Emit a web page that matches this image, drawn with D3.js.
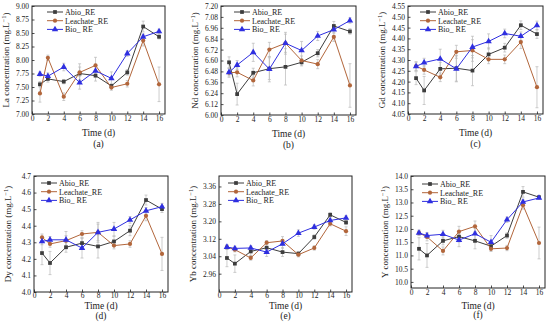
<!DOCTYPE html>
<html>
<head>
<meta charset="utf-8">
<script src="https://cdn.jsdelivr.net/npm/d3@7"></script>
<style>
  body { margin: 0; background: #fff; }
  svg text { font-family: "Liberation Serif", "DejaVu Serif", serif; fill: #222; font-weight: normal; }
</style>
</head>
<body>
<script>
const days = [1, 2, 4, 6, 8, 10, 12, 14, 16];
const xTicks = [0, 2, 4, 6, 8, 10, 12, 14, 16];
const seriesNames = ['Abio_RE', 'Leachate_RE', 'Bio_ RE'];

// La
const laAbio = [7.55, 7.65, 7.60, 7.75, 7.71, 7.52, 7.77, 8.62, 8.43];
const laLeach = [7.38, 8.04, 7.32, 7.77, 7.90, 7.49, 7.56, 8.36, 7.55];
const laBio = [7.74, 7.70, 7.87, 7.58, 7.80, 7.66, 8.12, 8.43, 8.53];
const laErrAbio = [0.05, 0.06, 0.04, 0.12, 0.1, 0.04, 0.05, 0.1, 0.04];
const laErrLeach = [0.16, 0.05, 0.07, 0.16, 0.15, 0.05, 0.06, 0.1, 0.32];
const laErrBio = [0.04, 0.06, 0.07, 0.12, 0.1, 0.12, 0.05, 0.05, 0.04];

// Nd
const ndAbio = [6.58, 6.23, 6.465, 6.51, 6.53, 6.58, 6.68, 6.98, 6.92];
const ndLeach = [6.465, 6.47, 6.38, 6.72, 6.79, 6.60, 6.56, 6.86, 6.325];
const ndBio = [6.47, 6.55, 6.69, 6.505, 6.79, 6.71, 6.87, 6.94, 7.04];
const ndErrAbio = [0.06, 0.12, 0.05, 0.12, 0.2, 0.04, 0.04, 0.05, 0.03];
const ndErrLeach = [0.05, 0.05, 0.06, 0.08, 0.12, 0.05, 0.05, 0.05, 0.24];
const ndErrBio = [0.04, 0.05, 0.1, 0.14, 0.1, 0.1, 0.05, 0.04, 0.03];

// Gd
const gdAbio = [4.216, 4.159, 4.259, 4.262, 4.251, 4.326, 4.357, 4.461, 4.42];
const gdLeach = [4.272, 4.254, 4.22, 4.338, 4.344, 4.303, 4.303, 4.383, 4.174];
const gdBio = [4.27, 4.288, 4.305, 4.259, 4.36, 4.386, 4.423, 4.41, 4.46];
const gdErrAbio = [0.03, 0.065, 0.03, 0.06, 0.07, 0.03, 0.02, 0.02, 0.02];
const gdErrLeach = [0.02, 0.02, 0.02, 0.03, 0.05, 0.02, 0.02, 0.03, 0.095];
const gdErrBio = [0.02, 0.02, 0.045, 0.06, 0.05, 0.035, 0.02, 0.02, 0.02];

// Dy
const dyAbio = [4.235, 4.175, 4.27, 4.295, 4.275, 4.305, 4.37, 4.555, 4.50];
const dyLeach = [4.33, 4.29, 4.31, 4.35, 4.36, 4.28, 4.29, 4.46, 4.23];
const dyBio = [4.305, 4.315, 4.315, 4.265, 4.36, 4.38, 4.435, 4.49, 4.515];
const dyErrAbio = [0.07, 0.07, 0.03, 0.03, 0.07, 0.03, 0.03, 0.03, 0.02];
const dyErrLeach = [0.02, 0.02, 0.03, 0.02, 0.06, 0.02, 0.02, 0.03, 0.1];
const dyErrBio = [0.02, 0.02, 0.05, 0.06, 0.05, 0.04, 0.02, 0.02, 0.02];

// Yb
const ybAbio = [3.032, 3.006, 3.062, 3.079, 3.059, 3.052, 3.128, 3.23, 3.195];
const ybLeach = [3.082, 3.07, 3.032, 3.102, 3.11, 3.047, 3.078, 3.189, 3.155];
const ybBio = [3.082, 3.076, 3.078, 3.059, 3.097, 3.146, 3.174, 3.204, 3.216];
const ybErrAbio = [0.04, 0.04, 0.02, 0.02, 0.02, 0.01, 0.01, 0.01, 0.01];
const ybErrLeach = [0.01, 0.01, 0.01, 0.01, 0.02, 0.01, 0.01, 0.01, 0.02];
const ybErrBio = [0.01, 0.01, 0.01, 0.02, 0.02, 0.015, 0.01, 0.01, 0.01];

// Y
const yAbio = [11.25, 11.0, 11.55, 11.71, 11.55, 11.35, 11.75, 13.4, 13.2];
const yLeach = [11.85, 11.7, 11.17, 11.9, 12.1, 11.25, 11.28, 12.9, 11.47];
const yBio = [11.85, 11.75, 11.8, 11.58, 11.82, 11.5, 12.35, 13.02, 13.17];
const yErrAbio = [0.42, 0.45, 0.15, 0.2, 0.3, 0.15, 0.1, 0.2, 0.05];
const yErrLeach = [0.1, 0.15, 0.15, 0.2, 0.2, 0.1, 0.1, 0.15, 0.6];
const yErrBio = [0.1, 0.1, 0.15, 0.25, 0.2, 0.25, 0.1, 0.1, 0.05];

const colors = ['#3d3d3d', '#b2663b', '#2f2fe0'];
const markers = [d3.symbolSquare, d3.symbolCircle, d3.symbolTriangle];
const markerSize = [14, 14, 18];

// box = [left, top, right, bottom]; titles = [tick pad, "Time (d)" offset, tag offset]
const panels = [
  { el: 'La', tag: '(a)', box: [32, 6, 165, 114], titles: [2, 22, 33], yDom: [7, 9], yTicks: d3.range(7, 9.001, 0.25), fmt: '.2f',
    vals: [laAbio, laLeach, laBio], errs: [laErrAbio, laErrLeach, laErrBio], leg: [47, 12] },
  { el: 'Nd', tag: '(b)', box: [221, 6, 356, 115], titles: [2, 22, 33], yDom: [6, 7.2], yTicks: d3.range(6, 7.201, 0.12), fmt: '.2f',
    vals: [ndAbio, ndLeach, ndBio], errs: [ndErrAbio, ndErrLeach, ndErrBio], leg: [234, 12] },
  { el: 'Gd', tag: '(c)', box: [408, 6, 543, 114], titles: [2, 22, 33], yDom: [4.05, 4.55], yTicks: d3.range(4.05, 4.551, 0.05), fmt: '.2f',
    vals: [gdAbio, gdLeach, gdBio], errs: [gdErrAbio, gdErrLeach, gdErrBio], leg: [420, 12] },
  { el: 'Dy', tag: '(d)', box: [34, 176, 168, 292], titles: [0.5, 17, 26.5], yDom: [4.0, 4.7], yTicks: d3.range(4.0, 4.701, 0.1), fmt: '.1f',
    vals: [dyAbio, dyLeach, dyBio], errs: [dyErrAbio, dyErrLeach, dyErrBio], leg: [41, 183] },
  { el: 'Yb', tag: '(e)', box: [219, 176, 352, 292], titles: [0.5, 17, 26.5], yDom: [2.876, 3.408], yTicks: d3.range(2.96, 3.361, 0.08), fmt: '.2f',
    vals: [ybAbio, ybLeach, ybBio], errs: [ybErrAbio, ybErrLeach, ybErrBio], leg: [228, 183] },
  { el: 'Y', tag: '(f)', box: [411, 176, 545, 288], titles: [1.5, 21, 30], yDom: [9.77, 14.0], yTicks: d3.range(10, 14.001, 0.5), fmt: '.1f',
    vals: [yAbio, yLeach, yBio], errs: [yErrAbio, yErrLeach, yErrBio], leg: [422, 184] }
];

const svg = d3.select('body').append('svg')
  .attr('width', 550)
  .attr('height', 324);

let drawPanel = (p) => {
  const [x0, y0, x1, y1] = p.box;
  const x = d3.scaleLinear().domain([0, 16.75]).range([x0, x1]);
  const y = d3.scaleLinear().domain(p.yDom).range([y1, y0]);
  const g = svg.append('g');

  // error bars first so lines sit on top
  p.vals.forEach((vals, si) => {
    const eg = g.append('g').attr('stroke', '#b8b8b8').attr('stroke-width', 0.7).attr('fill', 'none');
    vals.forEach((v, i) => {
      const e = p.errs[si][i];
      const cx = x(days[i]);
      eg.append('line').attr('x1', cx).attr('x2', cx).attr('y1', y(v - e)).attr('y2', y(v + e));
      eg.append('line').attr('x1', cx - 1.5).attr('x2', cx + 1.5).attr('y1', y(v - e)).attr('y2', y(v - e));
      eg.append('line').attr('x1', cx - 1.5).attr('x2', cx + 1.5).attr('y1', y(v + e)).attr('y2', y(v + e));
    });
  });

  p.vals.forEach((vals, si) => {
    const line = d3.line().x((d, i) => x(days[i])).y(d => y(d));
    g.append('path')
      .datum(vals)
      .attr('d', line)
      .attr('fill', 'none')
      .attr('stroke', colors[si])
      .attr('stroke-width', 1);
    g.selectAll(null)
      .data(vals)
      .enter()
      .append('path')
      .attr('d', d3.symbol().type(markers[si]).size(markerSize[si]))
      .attr('transform', (d, i) => 'translate(' + x(days[i]) + ',' + y(d) + ')')
      .attr('fill', colors[si]);
  });

  // axes with inward ticks
  const xAxis = g.append('g')
    .attr('transform', 'translate(0,' + y1 + ')')
    .call(d3.axisBottom(x).tickValues(xTicks).tickSize(-2.5).tickPadding(p.titles[0]).tickFormat(d3.format('d')));
  const yAxis = g.append('g')
    .attr('transform', 'translate(' + x0 + ',0)')
    .call(d3.axisLeft(y).tickValues(p.yTicks).tickSize(-2.5).tickPadding(3).tickFormat(d3.format(p.fmt)));
  [xAxis, yAxis].forEach(a => {
    a.attr('font-family', null);
    a.select('.domain').remove();
    a.selectAll('line').attr('stroke', '#222').attr('stroke-width', 0.8);
    a.selectAll('text').attr('font-size', 7.5).attr('fill', '#222');
  });

  g.append('rect')
    .attr('x', x0).attr('y', y0)
    .attr('width', x1 - x0).attr('height', y1 - y0)
    .attr('fill', 'none')
    .attr('stroke', '#222')
    .attr('stroke-width', 1);

  // x titles
  const cx = (x0 + x1) / 2;
  g.append('text').attr('x', cx).attr('y', y1 + p.titles[1])
    .attr('text-anchor', 'middle').attr('font-size', 9.5).text('Time (d)');
  g.append('text').attr('x', cx).attr('y', y1 + p.titles[2])
    .attr('text-anchor', 'middle').attr('font-size', 9.5).text(p.tag);

  // y title
  const yt = g.append('text')
    .attr('transform', 'translate(' + (x0 - 23) + ',' + ((y0 + y1) / 2) + ') rotate(-90)')
    .attr('text-anchor', 'middle')
    .attr('font-size', 9);
  yt.append('tspan').text(p.el + ' concentration (mg.L');
  yt.append('tspan').attr('dy', -3).attr('font-size', 6.5).text('\u22121');
  yt.append('tspan').attr('dy', 3).text(')');

  // legend
  const [lx, ly] = p.leg;
  seriesNames.forEach((name, si) => {
    const yy = ly + si * 8.7;
    g.append('line').attr('x1', lx).attr('x2', lx + 16).attr('y1', yy).attr('y2', yy)
      .attr('stroke', colors[si]).attr('stroke-width', 1);
    g.append('path')
      .attr('d', d3.symbol().type(markers[si]).size(markerSize[si]))
      .attr('transform', 'translate(' + (lx + 8) + ',' + yy + ')')
      .attr('fill', colors[si]);
    g.append('text').attr('x', lx + 18).attr('y', yy + 2.8)
      .attr('font-size', 8).text(name);
  });
};

panels.forEach(drawPanel);
</script>
</body>
</html>
